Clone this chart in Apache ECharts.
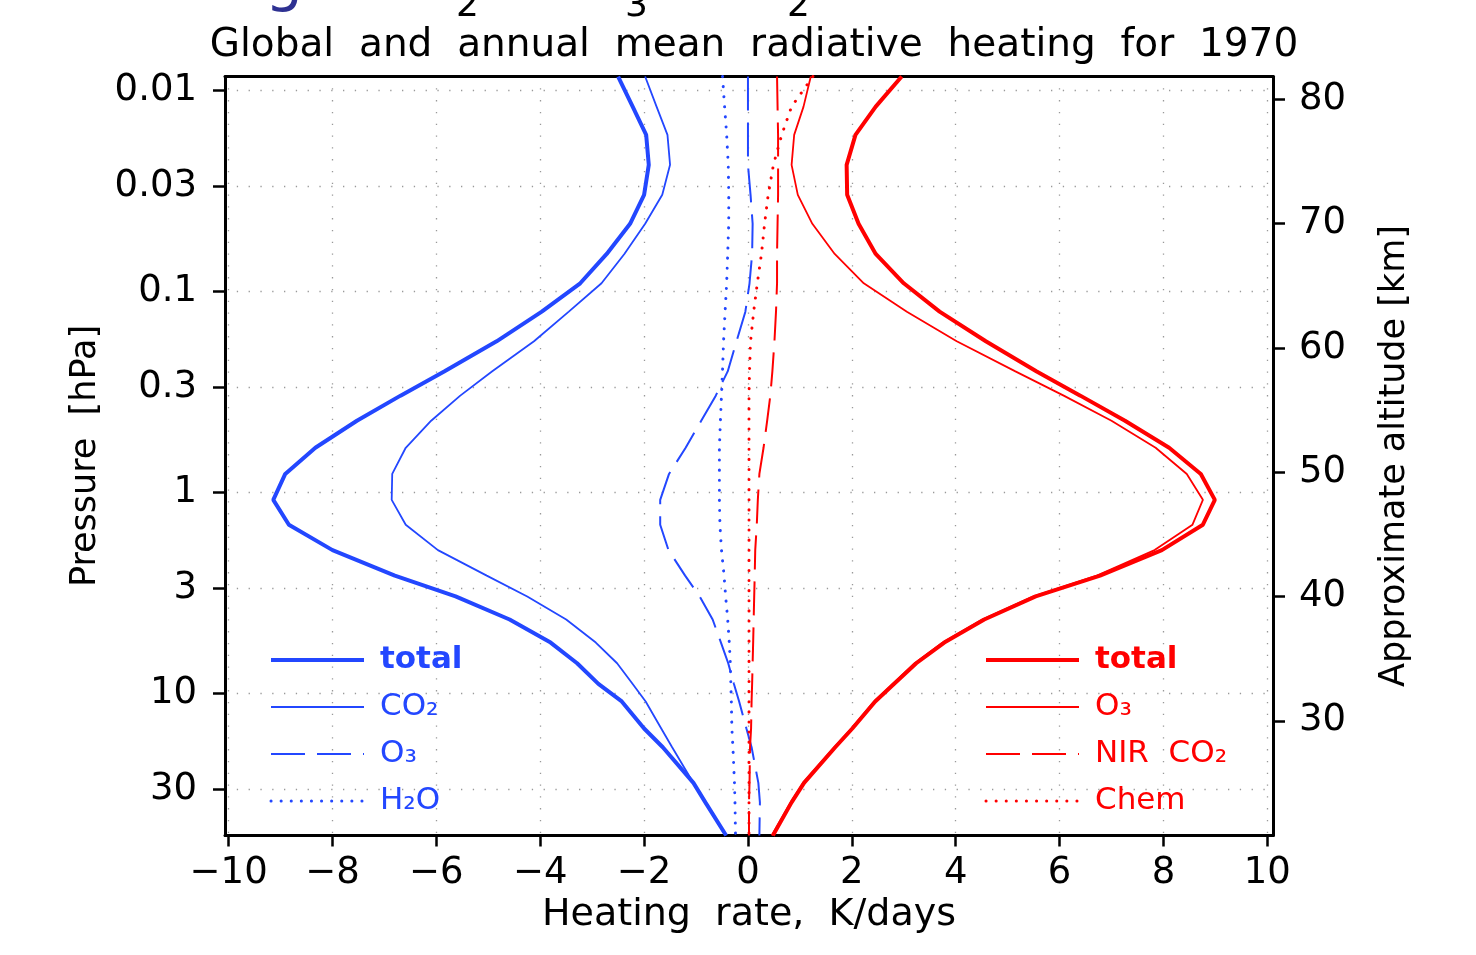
<!DOCTYPE html>
<html>
<head>
<meta charset="utf-8">
<title>Global and annual mean radiative heating for 1970</title>
<script src="https://cdn.jsdelivr.net/npm/echarts@6/dist/echarts.min.js"></script>
<style>
    html, body { margin: 0; padding: 0; background: #fff; }
    #chart { width: 1476px; height: 955px; }
</style>
</head>
<body>
<div id="chart"></div>
<script>
    // pressure levels [hPa], top of plot to bottom
    var pressure = [0.0085, 0.012, 0.0166, 0.0234, 0.033, 0.046, 0.065, 0.091, 0.126, 0.177,
                    0.25, 0.33, 0.44, 0.6, 0.81, 1.09, 1.45, 1.94, 2.6, 3.3,
                    4.3, 5.6, 7.1, 9.0, 11, 15, 18.6, 28, 35, 51.2];

    // long-wave (cooling), K/day
    var lwTotal = [-2.50, -2.22, -1.96, -1.91, -2.00, -2.27, -2.72, -3.23, -3.97, -4.84,
                   -5.85, -6.69, -7.53, -8.33, -8.91, -9.14, -8.84, -8.00, -6.80, -5.63,
                   -4.59, -3.80, -3.29, -2.88, -2.43, -2.00, -1.64, -1.05, -0.82, -0.42];
    var lwCO2   = [-1.98, -1.76, -1.55, -1.50, -1.65, -1.98, -2.38, -2.82, -3.45, -4.12,
                   -4.93, -5.54, -6.10, -6.59, -6.85, -6.86, -6.59, -5.97, -5.03, -4.25,
                   -3.50, -2.93, -2.52, -2.22, -1.97, -1.67, -1.46, -1.05, -0.82, -0.42];
    var lwO3    = [0.00, 0.00, 0.00, 0.00, 0.05, 0.09, 0.08, 0.03, -0.05, -0.22,
                   -0.39, -0.62, -0.90, -1.20, -1.52, -1.69, -1.69, -1.53, -1.21, -0.93,
                   -0.68, -0.52, -0.38, -0.27, -0.17, -0.03, 0.07, 0.20, 0.23, 0.22];
    var lwH2O   = [-0.49, -0.45, -0.41, -0.38, -0.37, -0.37, -0.39, -0.41, -0.44, -0.47,
                   -0.49, -0.51, -0.53, -0.55, -0.55, -0.55, -0.54, -0.51, -0.46, -0.43,
                   -0.39, -0.36, -0.34, -0.33, -0.32, -0.31, -0.29, -0.26, -0.25, -0.24];

    // short-wave (heating), K/day
    var swTotal = [2.96, 2.46, 2.07, 1.90, 1.91, 2.13, 2.46, 3.00, 3.69, 4.58,
                   5.56, 6.40, 7.26, 8.11, 8.72, 8.99, 8.76, 7.97, 6.78, 5.54,
                   4.55, 3.78, 3.24, 2.81, 2.45, 2.01, 1.68, 1.08, 0.84, 0.48];
    var swO3    = [1.21, 1.07, 0.89, 0.84, 0.96, 1.24, 1.67, 2.23, 3.06, 4.02,
                   5.15, 6.08, 7.00, 7.85, 8.45, 8.76, 8.56, 7.83, 6.72, 5.50,
                   4.51, 3.75, 3.21, 2.79, 2.43, 1.99, 1.66, 1.06, 0.82, 0.46];
    var swNIR   = [0.56, 0.57, 0.58, 0.58, 0.58, 0.57, 0.56, 0.56, 0.54, 0.51,
                   0.47, 0.43, 0.37, 0.30, 0.22, 0.19, 0.17, 0.14, 0.13, 0.12,
                   0.11, 0.10, 0.09, 0.08, 0.07, 0.06, 0.04, 0.03, 0.02, 0.02];
    var swChem  = [1.25, 0.84, 0.65, 0.49, 0.39, 0.32, 0.26, 0.18, 0.11, 0.05,
                   0.03, 0.02, 0.02, 0.02, 0.02, 0.02, 0.02, 0.02, 0.02, 0.02,
                   0.02, 0.02, 0.02, 0.02, 0.02, 0.02, 0.02, 0.02, 0.02, 0.02];

    // tick labels
    var heatingTicks  = [-10, -8, -6, -4, -2, 0, 2, 4, 6, 8, 10];
    var pressureTicks = [0.01, 0.03, 0.1, 0.3, 1, 3, 10, 30];
    var altitudeTicks = [30, 40, 50, 60, 70, 80];

    var BLUE = '#2347ff';
    var RED = '#ff0000';
    var FONT = 'DejaVu Sans';
    var DOT = [0.1, 10];
    var DASH = [34, 12];

    var legendText = {
        lwTotal: '{b|total}', lwCO2: 'CO₂', lwO3: 'O₃', lwH2O: 'H₂O',
        swTotal: '{b|total}', swO3: 'O₃', swNIR: 'NIR  CO₂', swChem: 'Chem'
    };
    var lineWidths = {
        lwTotal: 4, lwCO2: 1.8, lwO3: 2, lwH2O: 3,
        swTotal: 4, swO3: 1.8, swNIR: 2, swChem: 3
    };

    function lg(p) { return Math.log(p) / Math.LN10; }

    function profile(xs) {
        return xs.map(function (x, i) { return [x, lg(pressure[i])]; });
    }

    function line(name, xs, color, type) {
        return {
            name: name,
            type: 'line',
            data: profile(xs),
            symbol: 'none',
            showSymbol: false,
            silent: true,
            animation: false,
            lineStyle: { color: color, width: lineWidths[name], type: type || 'solid', cap: type === DOT ? 'round' : 'butt' },
            itemStyle: { color: color }
        };
    }

    function legendBlock(names, left, color) {
        return {
            data: names.map(function (n) { return { name: n, lineStyle: { width: lineWidths[n] } }; }),
            orient: 'vertical',
            left: left,
            top: 642,
            padding: 0,
            itemWidth: 93,
            itemHeight: 20,
            itemGap: 11,
            selectedMode: false,
            itemStyle: { opacity: 0 },
            formatter: function (n) { return legendText[n]; },
            textStyle: {
                color: color, fontFamily: FONT, fontSize: 31, lineHeight: 36,
                padding: [0, 0, 0, 11],
                rich: { b: { color: color, fontFamily: FONT, fontSize: 31, fontWeight: 'bold', lineHeight: 36 } }
            }
        };
    }

    var gridDots = { show: true, lineStyle: { color: '#999', width: 1.3, type: [1.3, 10.5] } };
    var axisBlack = { show: true, onZero: false, lineStyle: { color: '#000', width: 3 } };
    var bigTitle = '60px "DejaVu Sans"';
    var subTitle = '36px "DejaVu Sans"';

    var chart = echarts.init(document.getElementById('chart'), null, { renderer: 'canvas' });

    var option = {
        backgroundColor: '#fff',
        animation: false,
        title: {
            text: 'Global  and  annual  mean  radiative  heating  for  1970',
            left: 749,
            textAlign: 'center',
            top: 21,
            textStyle: { fontFamily: FONT, fontSize: 39, fontWeight: 'normal', color: '#000' }
        },
        // upper title line, cut off by the top edge of the picture
        graphic: [
            { type: 'text', x: 303, y: 13, style: { text: 'Heating', fill: '#2e3192', font: bigTitle, align: 'right', verticalAlign: 'bottom' } },
            { type: 'text', x: 456, y: 11, style: { text: 'CO', fill: '#2e3192', font: bigTitle, align: 'right', verticalAlign: 'bottom' } },
            { type: 'text', x: 456, y: 25, style: { text: '2', fill: '#000', font: subTitle, align: 'left', verticalAlign: 'bottom' } },
            { type: 'text', x: 624, y: 11, style: { text: 'O', fill: '#2e3192', font: bigTitle, align: 'right', verticalAlign: 'bottom' } },
            { type: 'text', x: 625, y: 25, style: { text: '3', fill: '#000', font: subTitle, align: 'left', verticalAlign: 'bottom' } },
            { type: 'text', x: 786, y: 11, style: { text: 'H', fill: '#2e3192', font: bigTitle, align: 'right', verticalAlign: 'bottom' } },
            { type: 'text', x: 787, y: 25, style: { text: '2', fill: '#000', font: subTitle, align: 'left', verticalAlign: 'bottom' } },
            { type: 'text', x: 813, y: 11, style: { text: 'O', fill: '#2e3192', font: bigTitle, align: 'left', verticalAlign: 'bottom' } }
        ],
        grid: { left: 225, right: 203, top: 76.5, bottom: 119.5, containLabel: false },
        xAxis: [{
            type: 'value',
            position: 'bottom',
            min: -10.07,
            max: 10.11,
            name: 'Heating  rate,  K/days',
            nameLocation: 'middle',
            nameGap: 57,
            nameTextStyle: { fontFamily: FONT, fontSize: 38, color: '#000' },
            axisLine: axisBlack,
            axisTick: { show: true, inside: false, length: 11, customValues: heatingTicks, lineStyle: { color: '#000', width: 2.5 } },
            axisLabel: {
                show: true, customValues: heatingTicks, margin: 19,
                fontFamily: FONT, fontSize: 37, color: '#000',
                formatter: function (v) { return String(Math.round(v)).replace('-', '−'); }
            },
            splitLine: gridDots
        }, {
            type: 'value',
            position: 'top',
            min: -10.07,
            max: 10.11,
            axisLine: axisBlack,
            axisTick: { show: false },
            axisLabel: { show: false },
            splitLine: { show: false }
        }],
        yAxis: [{
            type: 'value',
            position: 'left',
            inverse: true,
            min: -2.0707,
            max: 1.709,
            name: 'Pressure  [hPa]',
            nameLocation: 'middle',
            nameRotate: 90,
            nameGap: 122,
            nameTextStyle: { fontFamily: FONT, fontSize: 35, color: '#000' },
            axisLine: axisBlack,
            axisTick: { show: true, inside: false, length: 12, customValues: pressureTicks.map(lg), lineStyle: { color: '#000', width: 2.5 } },
            axisLabel: {
                show: true, customValues: pressureTicks.map(lg), margin: 28,
                fontFamily: FONT, fontSize: 37, color: '#000',
                formatter: function (v) { return String(Number(Math.pow(10, v).toPrecision(1))); }
            },
            splitLine: gridDots
        }, {
            type: 'value',
            position: 'right',
            min: 20.78,
            max: 81.83,
            name: 'Approximate altitude [km]',
            nameLocation: 'middle',
            nameRotate: 90,
            nameGap: 104,
            nameTextStyle: { fontFamily: FONT, fontSize: 35, color: '#000' },
            axisLine: axisBlack,
            axisTick: { show: true, inside: false, length: 12, customValues: altitudeTicks, lineStyle: { color: '#000', width: 2.5 } },
            axisLabel: {
                show: true, customValues: altitudeTicks, margin: 26,
                fontFamily: FONT, fontSize: 37, color: '#000'
            },
            splitLine: { show: false }
        }],
        legend: [
            legendBlock(['lwTotal', 'lwCO2', 'lwO3', 'lwH2O'], 269, BLUE),
            legendBlock(['swTotal', 'swO3', 'swNIR', 'swChem'], 984, RED)
        ],
        series: [
            line('lwH2O', lwH2O, BLUE, DOT),
            line('lwO3', lwO3, BLUE, DASH),
            line('lwCO2', lwCO2, BLUE),
            line('lwTotal', lwTotal, BLUE),
            line('swChem', swChem, RED, DOT),
            line('swNIR', swNIR, RED, DASH),
            line('swO3', swO3, RED),
            line('swTotal', swTotal, RED)
        ]
    };

    chart.setOption(option);
</script>
</body>
</html>
